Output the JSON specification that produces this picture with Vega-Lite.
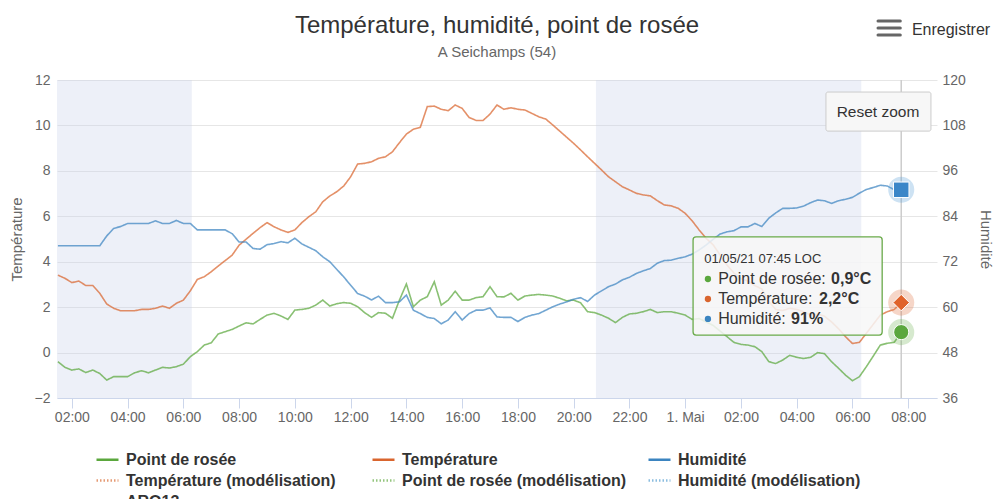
{
"$schema":"https://vega.github.io/schema/vega-lite/v6.json",
"width":880,"height":318,
"autosize":{"type":"none"},
"padding":{"left":57,"top":80,"right":63,"bottom":101},
"background":"white",
"config":{"font":"Liberation Sans","view":{"stroke":null}},
"title":{"text":"Température, humidité, point de rosée","subtitle":"A Seichamps (54)","fontSize":24,"fontWeight":"normal","color":"#333333","subtitleFontSize":15,"subtitleColor":"#666666","subtitlePadding":7,"anchor":"middle","frame":"group","offset":-40.5},
"datasets":{"wx":[
{"t":"2021-04-30T01:30","Température":3.41,"Point de rosée":-0.40,"Humidité":76.2},
{"t":"2021-04-30T01:45","Température":3.27,"Point de rosée":-0.65,"Humidité":76.2},
{"t":"2021-04-30T02:00","Température":3.08,"Point de rosée":-0.77,"Humidité":76.2},
{"t":"2021-04-30T02:15","Température":3.15,"Point de rosée":-0.72,"Humidité":76.2},
{"t":"2021-04-30T02:30","Température":2.95,"Point de rosée":-0.88,"Humidité":76.2},
{"t":"2021-04-30T02:45","Température":2.95,"Point de rosée":-0.77,"Humidité":76.2},
{"t":"2021-04-30T03:00","Température":2.61,"Point de rosée":-0.92,"Humidité":76.2},
{"t":"2021-04-30T03:15","Température":2.14,"Point de rosée":-1.21,"Humidité":78.8},
{"t":"2021-04-30T03:30","Température":1.95,"Point de rosée":-1.06,"Humidité":80.8},
{"t":"2021-04-30T03:45","Température":1.84,"Point de rosée":-1.06,"Humidité":81.3},
{"t":"2021-04-30T04:00","Température":1.84,"Point de rosée":-1.06,"Humidité":82.1},
{"t":"2021-04-30T04:15","Température":1.84,"Point de rosée":-0.89,"Humidité":82.1},
{"t":"2021-04-30T04:30","Température":1.90,"Point de rosée":-0.80,"Humidité":82.1},
{"t":"2021-04-30T04:45","Température":1.90,"Point de rosée":-0.89,"Humidité":82.1},
{"t":"2021-04-30T05:00","Température":1.95,"Point de rosée":-0.77,"Humidité":82.8},
{"t":"2021-04-30T05:15","Température":2.05,"Point de rosée":-0.65,"Humidité":82.1},
{"t":"2021-04-30T05:30","Température":1.95,"Point de rosée":-0.68,"Humidité":82.1},
{"t":"2021-04-30T05:45","Température":2.17,"Point de rosée":-0.62,"Humidité":82.9},
{"t":"2021-04-30T06:00","Température":2.31,"Point de rosée":-0.51,"Humidité":82.1},
{"t":"2021-04-30T06:15","Température":2.72,"Point de rosée":-0.18,"Humidité":82.1},
{"t":"2021-04-30T06:30","Température":3.22,"Point de rosée":0.04,"Humidité":80.4},
{"t":"2021-04-30T06:45","Température":3.34,"Point de rosée":0.33,"Humidité":80.4},
{"t":"2021-04-30T07:00","Température":3.56,"Point de rosée":0.43,"Humidité":80.4},
{"t":"2021-04-30T07:15","Température":3.81,"Point de rosée":0.82,"Humidité":80.4},
{"t":"2021-04-30T07:30","Température":4.05,"Point de rosée":0.92,"Humidité":80.4},
{"t":"2021-04-30T07:45","Température":4.29,"Point de rosée":1.02,"Humidité":79.4},
{"t":"2021-04-30T08:00","Température":4.73,"Point de rosée":1.17,"Humidité":77.2},
{"t":"2021-04-30T08:15","Température":4.99,"Point de rosée":1.31,"Humidité":77.2},
{"t":"2021-04-30T08:30","Température":5.25,"Point de rosée":1.26,"Humidité":75.5},
{"t":"2021-04-30T08:45","Température":5.50,"Point de rosée":1.46,"Humidité":75.3},
{"t":"2021-04-30T09:00","Température":5.72,"Point de rosée":1.65,"Humidité":76.5},
{"t":"2021-04-30T09:15","Température":5.54,"Point de rosée":1.73,"Humidité":76.8},
{"t":"2021-04-30T09:30","Température":5.40,"Point de rosée":1.61,"Humidité":77.3},
{"t":"2021-04-30T09:45","Température":5.29,"Point de rosée":1.46,"Humidité":77.0},
{"t":"2021-04-30T10:00","Température":5.40,"Point de rosée":1.87,"Humidité":78.2},
{"t":"2021-04-30T10:15","Température":5.72,"Point de rosée":1.90,"Humidité":76.7},
{"t":"2021-04-30T10:30","Température":5.98,"Point de rosée":1.95,"Humidité":75.8},
{"t":"2021-04-30T10:45","Température":6.20,"Point de rosée":2.09,"Humidité":74.9},
{"t":"2021-04-30T11:00","Température":6.64,"Point de rosée":2.31,"Humidité":73.3},
{"t":"2021-04-30T11:15","Température":6.89,"Point de rosée":2.05,"Humidité":72.0},
{"t":"2021-04-30T11:30","Température":7.08,"Point de rosée":2.15,"Humidité":70.0},
{"t":"2021-04-30T11:45","Température":7.33,"Point de rosée":2.20,"Humidité":68.0},
{"t":"2021-04-30T12:00","Température":7.74,"Point de rosée":2.17,"Humidité":65.8},
{"t":"2021-04-30T12:15","Température":8.30,"Point de rosée":2.02,"Humidité":63.6},
{"t":"2021-04-30T12:30","Température":8.33,"Point de rosée":1.76,"Humidité":62.9},
{"t":"2021-04-30T12:45","Température":8.40,"Point de rosée":1.55,"Humidité":61.9},
{"t":"2021-04-30T13:00","Température":8.55,"Point de rosée":1.76,"Humidité":62.9},
{"t":"2021-04-30T13:15","Température":8.62,"Point de rosée":1.73,"Humidité":61.2},
{"t":"2021-04-30T13:30","Température":8.84,"Point de rosée":1.51,"Humidité":61.2},
{"t":"2021-04-30T13:45","Température":9.24,"Point de rosée":2.31,"Humidité":61.4},
{"t":"2021-04-30T14:00","Température":9.62,"Point de rosée":3.02,"Humidité":63.2},
{"t":"2021-04-30T14:15","Température":9.83,"Point de rosée":2.02,"Humidité":59.2},
{"t":"2021-04-30T14:30","Température":9.92,"Point de rosée":2.31,"Humidité":58.3},
{"t":"2021-04-30T14:45","Température":10.83,"Point de rosée":2.46,"Humidité":57.3},
{"t":"2021-04-30T15:00","Température":10.85,"Point de rosée":3.12,"Humidité":57.0},
{"t":"2021-04-30T15:15","Température":10.71,"Point de rosée":2.09,"Humidité":55.6},
{"t":"2021-04-30T15:30","Température":10.65,"Point de rosée":2.31,"Humidité":56.6},
{"t":"2021-04-30T15:45","Température":10.90,"Point de rosée":2.70,"Humidité":58.8},
{"t":"2021-04-30T16:00","Température":10.75,"Point de rosée":2.31,"Humidité":56.6},
{"t":"2021-04-30T16:15","Température":10.35,"Point de rosée":2.31,"Humidité":58.3},
{"t":"2021-04-30T16:30","Température":10.22,"Point de rosée":2.42,"Humidité":59.2},
{"t":"2021-04-30T16:45","Température":10.22,"Point de rosée":2.46,"Humidité":59.2},
{"t":"2021-04-30T17:00","Température":10.50,"Point de rosée":2.90,"Humidité":59.8},
{"t":"2021-04-30T17:15","Température":10.90,"Point de rosée":2.46,"Humidité":57.4},
{"t":"2021-04-30T17:30","Température":10.71,"Point de rosée":2.45,"Humidité":57.3},
{"t":"2021-04-30T17:45","Température":10.78,"Point de rosée":2.61,"Humidité":57.3},
{"t":"2021-04-30T18:00","Température":10.71,"Point de rosée":2.31,"Humidité":56.2},
{"t":"2021-04-30T18:15","Température":10.68,"Point de rosée":2.49,"Humidité":57.3},
{"t":"2021-04-30T18:30","Température":10.53,"Point de rosée":2.53,"Humidité":57.9},
{"t":"2021-04-30T18:45","Température":10.38,"Point de rosée":2.56,"Humidité":58.3},
{"t":"2021-04-30T19:00","Température":10.28,"Point de rosée":2.53,"Humidité":59.2},
{"t":"2021-04-30T19:15","Température":10.02,"Point de rosée":2.49,"Humidité":60.1},
{"t":"2021-04-30T19:30","Température":9.75,"Point de rosée":2.39,"Humidité":60.8},
{"t":"2021-04-30T19:45","Température":9.48,"Point de rosée":2.28,"Humidité":61.4},
{"t":"2021-04-30T20:00","Température":9.21,"Point de rosée":2.31,"Humidité":62.1},
{"t":"2021-04-30T20:15","Température":8.92,"Point de rosée":2.19,"Humidité":62.5},
{"t":"2021-04-30T20:30","Température":8.62,"Point de rosée":1.80,"Humidité":61.5},
{"t":"2021-04-30T20:45","Température":8.33,"Point de rosée":1.76,"Humidité":63.2},
{"t":"2021-04-30T21:00","Température":8.04,"Point de rosée":1.65,"Humidité":64.3},
{"t":"2021-04-30T21:15","Température":7.74,"Point de rosée":1.51,"Humidité":65.4},
{"t":"2021-04-30T21:30","Température":7.52,"Point de rosée":1.32,"Humidité":66.1},
{"t":"2021-04-30T21:45","Température":7.30,"Point de rosée":1.55,"Humidité":67.2},
{"t":"2021-04-30T22:00","Température":7.16,"Point de rosée":1.70,"Humidité":67.9},
{"t":"2021-04-30T22:15","Température":7.01,"Point de rosée":1.73,"Humidité":68.9},
{"t":"2021-04-30T22:30","Température":6.94,"Point de rosée":1.80,"Humidité":69.6},
{"t":"2021-04-30T22:45","Température":6.90,"Point de rosée":1.90,"Humidité":70.2},
{"t":"2021-04-30T23:00","Température":6.69,"Point de rosée":1.76,"Humidité":71.6},
{"t":"2021-04-30T23:15","Température":6.50,"Point de rosée":1.80,"Humidité":72.3},
{"t":"2021-04-30T23:30","Température":6.46,"Point de rosée":1.80,"Humidité":72.4},
{"t":"2021-04-30T23:45","Température":6.35,"Point de rosée":1.73,"Humidité":72.9},
{"t":"2021-05-01T00:00","Température":6.13,"Point de rosée":1.65,"Humidité":73.3},
{"t":"2021-05-01T00:15","Température":5.80,"Point de rosée":1.46,"Humidité":74.0},
{"t":"2021-05-01T00:30","Température":5.40,"Point de rosée":1.50,"Humidité":75.1},
{"t":"2021-05-01T00:45","Température":5.03,"Point de rosée":1.35,"Humidité":76.4},
{"t":"2021-05-01T01:00","Température":4.75,"Point de rosée":1.20,"Humidité":77.9},
{"t":"2021-05-01T01:15","Température":4.30,"Point de rosée":0.95,"Humidité":79.3},
{"t":"2021-05-01T01:30","Température":3.85,"Point de rosée":0.70,"Humidité":79.9},
{"t":"2021-05-01T01:45","Température":3.50,"Point de rosée":0.45,"Humidité":80.2},
{"t":"2021-05-01T02:00","Température":3.25,"Point de rosée":0.36,"Humidité":81.2},
{"t":"2021-05-01T02:15","Température":3.15,"Point de rosée":0.33,"Humidité":81.2},
{"t":"2021-05-01T02:30","Température":2.95,"Point de rosée":0.26,"Humidité":82.1},
{"t":"2021-05-01T02:45","Température":2.80,"Point de rosée":0.04,"Humidité":81.3},
{"t":"2021-05-01T03:00","Température":2.25,"Point de rosée":-0.40,"Humidité":83.5},
{"t":"2021-05-01T03:15","Température":1.90,"Point de rosée":-0.48,"Humidité":84.9},
{"t":"2021-05-01T03:30","Température":1.85,"Point de rosée":-0.33,"Humidité":86.1},
{"t":"2021-05-01T03:45","Température":1.95,"Point de rosée":-0.12,"Humidité":86.1},
{"t":"2021-05-01T04:00","Température":1.90,"Point de rosée":-0.21,"Humidité":86.2},
{"t":"2021-05-01T04:15","Température":1.80,"Point de rosée":-0.26,"Humidité":86.7},
{"t":"2021-05-01T04:30","Température":1.65,"Point de rosée":-0.21,"Humidité":87.6},
{"t":"2021-05-01T04:45","Température":1.70,"Point de rosée":0.00,"Humidité":88.3},
{"t":"2021-05-01T05:00","Température":1.60,"Point de rosée":-0.05,"Humidité":88.1},
{"t":"2021-05-01T05:15","Température":1.35,"Point de rosée":-0.40,"Humidité":87.4},
{"t":"2021-05-01T05:30","Température":1.05,"Point de rosée":-0.69,"Humidité":88.1},
{"t":"2021-05-01T05:45","Température":0.70,"Point de rosée":-0.99,"Humidité":88.5},
{"t":"2021-05-01T06:00","Température":0.40,"Point de rosée":-1.24,"Humidité":89.0},
{"t":"2021-05-01T06:15","Température":0.45,"Point de rosée":-1.06,"Humidité":90.1},
{"t":"2021-05-01T06:30","Température":0.85,"Point de rosée":-0.62,"Humidité":91.1},
{"t":"2021-05-01T06:45","Température":1.25,"Point de rosée":-0.15,"Humidité":91.6},
{"t":"2021-05-01T07:00","Température":1.65,"Point de rosée":0.33,"Humidité":92.2},
{"t":"2021-05-01T07:15","Température":1.80,"Point de rosée":0.41,"Humidité":92.0},
{"t":"2021-05-01T07:30","Température":1.90,"Point de rosée":0.45,"Humidité":91.0},
{"t":"2021-05-01T07:45","Température":2.20,"Point de rosée":0.90,"Humidité":91.0}
]},
"data":{"name":"wx"},
"layer":[
{"resolve":{"axis":{"x":"independent","y":"independent"}},
 "layer":[
 {"data":{"values":[{"start":"2021-04-29T22:00","end":"2021-04-30T06:18"},{"start":"2021-04-30T20:48","end":"2021-05-01T06:19"}]},
  "mark":{"type":"rect","color":"#c8d2eb","opacity":0.33,"clip":true},
  "encoding":{"x":{"field":"start","type":"temporal","scale":{"domain":[{"year":2021,"month":"Apr","date":30,"hours":1,"minutes":28},{"year":2021,"month":"May","date":1,"hours":9,"minutes":2}],"nice":false},"axis":null},"x2":{"field":"end"}}},
 {"transform":[{"fold":["Température","Point de rosée"],"as":["s","v"]}],
  "mark":{"type":"line","strokeWidth":1.6,"opacity":0.72},
  "encoding":{
   "x":{"field":"t","type":"temporal","scale":{"domain":[{"year":2021,"month":"Apr","date":30,"hours":1,"minutes":28},{"year":2021,"month":"May","date":1,"hours":9,"minutes":2}],"nice":false},
        "axis":{"orient":"bottom","title":null,
          "values":[{"year":2021,"month":"Apr","date":30,"hours":2},{"year":2021,"month":"Apr","date":30,"hours":4},{"year":2021,"month":"Apr","date":30,"hours":6},{"year":2021,"month":"Apr","date":30,"hours":8},{"year":2021,"month":"Apr","date":30,"hours":10},{"year":2021,"month":"Apr","date":30,"hours":12},{"year":2021,"month":"Apr","date":30,"hours":14},{"year":2021,"month":"Apr","date":30,"hours":16},{"year":2021,"month":"Apr","date":30,"hours":18},{"year":2021,"month":"Apr","date":30,"hours":20},{"year":2021,"month":"Apr","date":30,"hours":22},{"year":2021,"month":"May","date":1,"hours":0},{"year":2021,"month":"May","date":1,"hours":2},{"year":2021,"month":"May","date":1,"hours":4},{"year":2021,"month":"May","date":1,"hours":6},{"year":2021,"month":"May","date":1,"hours":8}],
          "labelExpr":"hours(datum.value)==0 ? '1. Mai' : timeFormat(datum.value,'%H:%M')","labelFontSize":14,"labelColor":"#666666","domainColor":"#ccd6eb","tickColor":"#ccd6eb","tickSize":10,"labelPadding":2,"grid":false,"labelFlush":false}},
   "y":{"field":"v","type":"quantitative","scale":{"domain":[-2,12],"nice":false},
        "axis":{"orient":"left","title":"Température","values":[-2,0,2,4,6,8,10,12],"grid":true,"gridColor":"#e6e6e6","domain":false,"ticks":false,"labelPadding":7,"labelFontSize":14,"labelColor":"#666666","titleFontSize":15,"titleFontWeight":"normal","titleColor":"#666666","titlePadding":10}},
   "color":{"field":"s","type":"nominal",
        "scale":{"domain":["Point de rosée","Température","Humidité","Température (modélisation)","Point de rosée (modélisation)","Humidité (modélisation)","ARO13"],"range":["#5ba73d","#d9652e","#3b84c0","#e59a74","#94c57e","#8bbde0","#cccccc"]},
        "legend":{"title":null,"orient":"none","direction":"horizontal","legendX":38,"legendY":367,"columns":3,"columnPadding":16,"rowPadding":-2,"gridAlign":"all","symbolType":"stroke","symbolSize":484,"symbolStrokeWidth":2.5,"symbolOpacity":1,"labelFontSize":16,"labelFontWeight":"bold","labelColor":"#333333","labelOffset":6,"labelLimit":400}},
   "strokeDash":{"field":"s","type":"nominal",
        "scale":{"domain":["Point de rosée","Température","Humidité","Température (modélisation)","Point de rosée (modélisation)","Humidité (modélisation)","ARO13"],"range":[[1,0],[1,0],[1,0],[1.5,2],[1.5,2],[1.5,2],[1.5,2]]},
        "legend":{"title":null,"orient":"none","direction":"horizontal","legendX":38,"legendY":367,"columns":3,"columnPadding":16,"rowPadding":-2,"gridAlign":"all","symbolType":"stroke","symbolSize":484,"symbolStrokeWidth":2.5,"symbolOpacity":1,"labelFontSize":16,"labelFontWeight":"bold","labelColor":"#333333","labelOffset":6,"labelLimit":400}}
  }},
 {"transform":[{"filter":"time(datum.t) == time(datetime(2021,4,1,7,45))"}],
  "mark":{"type":"rule","color":"#cccccc","strokeWidth":1.5},
  "encoding":{"x":{"field":"t","type":"temporal","axis":null}}},
 {"transform":[{"filter":"time(datum.t) == time(datetime(2021,4,1,7,45))"}],
  "mark":{"type":"point","shape":"circle","filled":true,"size":680,"color":"#5ba73d","opacity":0.25},
  "encoding":{"x":{"field":"t","type":"temporal","axis":null},"y":{"field":"Point de rosée","type":"quantitative","axis":null}}},
 {"transform":[{"filter":"time(datum.t) == time(datetime(2021,4,1,7,45))"}],
  "mark":{"type":"point","shape":"circle","filled":true,"size":230,"color":"#5ba73d","opacity":1,"stroke":"#ffffff","strokeWidth":1},
  "encoding":{"x":{"field":"t","type":"temporal","axis":null},"y":{"field":"Point de rosée","type":"quantitative","axis":null}}},
 {"transform":[{"filter":"time(datum.t) == time(datetime(2021,4,1,7,45))"}],
  "mark":{"type":"point","shape":"circle","filled":true,"size":680,"color":"#e0784a","opacity":0.3},
  "encoding":{"x":{"field":"t","type":"temporal","axis":null},"y":{"field":"Température","type":"quantitative","axis":null}}},
 {"transform":[{"filter":"time(datum.t) == time(datetime(2021,4,1,7,45))"}],
  "mark":{"type":"point","shape":"diamond","filled":true,"size":270,"color":"#e0622a","opacity":1,"stroke":"#ffffff","strokeWidth":1},
  "encoding":{"x":{"field":"t","type":"temporal","axis":null},"y":{"field":"Température","type":"quantitative","axis":null}}}
]},
{"resolve":{"axis":{"x":"independent","y":"independent"}},
 "layer":[
 {"transform":[{"fold":["Humidité"],"as":["s","v"]}],
  "mark":{"type":"line","strokeWidth":1.6,"opacity":0.72},
  "encoding":{
   "x":{"field":"t","type":"temporal","axis":null},
   "y":{"field":"v","type":"quantitative","scale":{"domain":[36,120],"nice":false},
        "axis":{"orient":"right","title":"Humidité","values":[36,48,60,72,84,96,108,120],"grid":false,"domain":false,"ticks":false,"labelPadding":5,"labelFontSize":14,"labelColor":"#666666","titleFontSize":15,"titleFontWeight":"normal","titleColor":"#666666","titlePadding":12}},
   "color":{"field":"s","type":"nominal","scale":{"domain":["Point de rosée","Température","Humidité","Température (modélisation)","Point de rosée (modélisation)","Humidité (modélisation)","ARO13"],"range":["#5ba73d","#d9652e","#3b84c0","#e59a74","#94c57e","#8bbde0","#cccccc"]},"legend":null},
   "strokeDash":{"field":"s","type":"nominal","scale":{"domain":["Point de rosée","Température","Humidité","Température (modélisation)","Point de rosée (modélisation)","Humidité (modélisation)","ARO13"],"range":[[1,0],[1,0],[1,0],[1.5,2],[1.5,2],[1.5,2],[1.5,2]]},"legend":null}
  }},
 {"transform":[{"filter":"time(datum.t) == time(datetime(2021,4,1,7,45))"}],
  "mark":{"type":"point","shape":"circle","filled":true,"size":680,"color":"#5aa0d8","opacity":0.3},
  "encoding":{"x":{"field":"t","type":"temporal","axis":null},"y":{"field":"Humidité","type":"quantitative","axis":null}}},
 {"transform":[{"filter":"time(datum.t) == time(datetime(2021,4,1,7,45))"}],
  "mark":{"type":"point","shape":"square","filled":true,"size":240,"color":"#3a86c8","opacity":1,"stroke":"#ffffff","strokeWidth":1},
  "encoding":{"x":{"field":"t","type":"temporal","axis":null},"y":{"field":"Humidité","type":"quantitative","axis":null}}}
]},
{"data":{"values":[{}]},
 "resolve":{"axis":{"x":"independent","y":"independent"}},
 "layer":[
 {"mark":{"type":"rect","fill":"#f7f7f7","fillOpacity":0.85,"stroke":"#6aaa4a","strokeWidth":1.3,"cornerRadius":3},
  "encoding":{"x":{"datum":{"year":2021,"month":"May","date":1,"hours":0,"minutes":17},"type":"temporal","axis":null},"x2":{"datum":{"year":2021,"month":"May","date":1,"hours":7,"minutes":4}},
   "y":{"datum":5.09,"type":"quantitative","scale":{"domain":[-2,12],"nice":false},"axis":null},"y2":{"datum":0.77}}},
 {"mark":{"type":"text","text":"01/05/21 07:45 LOC","align":"left","baseline":"middle","fontSize":13,"color":"#333333"},
  "encoding":{"x":{"datum":{"year":2021,"month":"May","date":1,"hours":0,"minutes":41},"type":"temporal","axis":null},"y":{"datum":4.12,"type":"quantitative","axis":null}}},
 {"mark":{"type":"point","shape":"circle","filled":true,"size":40,"color":"#5ba73d","opacity":1},
  "encoding":{"x":{"datum":{"year":2021,"month":"May","date":1,"hours":0,"minutes":49},"type":"temporal","axis":null},"y":{"datum":3.24,"type":"quantitative","axis":null}}},
 {"mark":{"type":"point","shape":"circle","filled":true,"size":40,"color":"#d9652e","opacity":1},
  "encoding":{"x":{"datum":{"year":2021,"month":"May","date":1,"hours":0,"minutes":49},"type":"temporal","axis":null},"y":{"datum":2.36,"type":"quantitative","axis":null}}},
 {"mark":{"type":"point","shape":"circle","filled":true,"size":40,"color":"#3b84c0","opacity":1},
  "encoding":{"x":{"datum":{"year":2021,"month":"May","date":1,"hours":0,"minutes":49},"type":"temporal","axis":null},"y":{"datum":1.48,"type":"quantitative","axis":null}}},
 {"mark":{"type":"text","text":"Point de rosée:","align":"left","baseline":"middle","fontSize":16,"color":"#333333"},
  "encoding":{"x":{"datum":{"year":2021,"month":"May","date":1,"hours":1,"minutes":11},"type":"temporal","axis":null},"y":{"datum":3.24,"type":"quantitative","axis":null}}},
 {"mark":{"type":"text","text":"Température:","align":"left","baseline":"middle","fontSize":16,"color":"#333333"},
  "encoding":{"x":{"datum":{"year":2021,"month":"May","date":1,"hours":1,"minutes":11},"type":"temporal","axis":null},"y":{"datum":2.36,"type":"quantitative","axis":null}}},
 {"mark":{"type":"text","text":"Humidité:","align":"left","baseline":"middle","fontSize":16,"color":"#333333"},
  "encoding":{"x":{"datum":{"year":2021,"month":"May","date":1,"hours":1,"minutes":11},"type":"temporal","axis":null},"y":{"datum":1.48,"type":"quantitative","axis":null}}},
 {"mark":{"type":"text","text":"0,9°C","align":"left","baseline":"middle","fontSize":16,"fontWeight":"bold","color":"#333333"},
  "encoding":{"x":{"datum":{"year":2021,"month":"May","date":1,"hours":5,"minutes":14},"type":"temporal","axis":null},"y":{"datum":3.24,"type":"quantitative","axis":null}}},
 {"mark":{"type":"text","text":"2,2°C","align":"left","baseline":"middle","fontSize":16,"fontWeight":"bold","color":"#333333"},
  "encoding":{"x":{"datum":{"year":2021,"month":"May","date":1,"hours":4,"minutes":48},"type":"temporal","axis":null},"y":{"datum":2.36,"type":"quantitative","axis":null}}},
 {"mark":{"type":"text","text":"91%","align":"left","baseline":"middle","fontSize":16,"fontWeight":"bold","color":"#333333"},
  "encoding":{"x":{"datum":{"year":2021,"month":"May","date":1,"hours":3,"minutes":48},"type":"temporal","axis":null},"y":{"datum":1.48,"type":"quantitative","axis":null}}},
 {"mark":{"type":"rect","fill":"#f7f7f7","stroke":"#cccccc","strokeWidth":1,"cornerRadius":2},
  "encoding":{"x":{"datum":{"year":2021,"month":"May","date":1,"hours":5,"minutes":3},"type":"temporal","axis":null},"x2":{"datum":{"year":2021,"month":"May","date":1,"hours":8,"minutes":49}},
   "y":{"datum":11.47,"type":"quantitative","axis":null},"y2":{"datum":9.75}}},
 {"mark":{"type":"text","text":"Reset zoom","align":"center","baseline":"middle","fontSize":15.5,"color":"#333333"},
  "encoding":{"x":{"datum":{"year":2021,"month":"May","date":1,"hours":6,"minutes":55},"type":"temporal","axis":null},"y":{"datum":10.59,"type":"quantitative","axis":null}}},
 {"mark":{"type":"text","text":"Enregistrer","align":"left","baseline":"middle","fontSize":16,"color":"#333333"},
  "encoding":{"x":{"datum":{"year":2021,"month":"May","date":1,"hours":8,"minutes":8},"type":"temporal","axis":null},"y":{"datum":14.2,"type":"quantitative","axis":null}}},
 {"mark":{"type":"rule","color":"#666666","strokeWidth":3,"strokeCap":"round"},
  "encoding":{"x":{"datum":{"year":2021,"month":"May","date":1,"hours":6,"minutes":55},"type":"temporal","axis":null},"x2":{"datum":{"year":2021,"month":"May","date":1,"hours":7,"minutes":43}},"y":{"datum":14.6,"type":"quantitative","axis":null}}},
 {"mark":{"type":"rule","color":"#666666","strokeWidth":3,"strokeCap":"round"},
  "encoding":{"x":{"datum":{"year":2021,"month":"May","date":1,"hours":6,"minutes":55},"type":"temporal","axis":null},"x2":{"datum":{"year":2021,"month":"May","date":1,"hours":7,"minutes":43}},"y":{"datum":14.29,"type":"quantitative","axis":null}}},
 {"mark":{"type":"rule","color":"#666666","strokeWidth":3,"strokeCap":"round"},
  "encoding":{"x":{"datum":{"year":2021,"month":"May","date":1,"hours":6,"minutes":55},"type":"temporal","axis":null},"x2":{"datum":{"year":2021,"month":"May","date":1,"hours":7,"minutes":43}},"y":{"datum":13.98,"type":"quantitative","axis":null}}}
 ]}
],
"resolve":{"scale":{"y":"independent"},"axis":{"x":"independent","y":"independent"}}
}
